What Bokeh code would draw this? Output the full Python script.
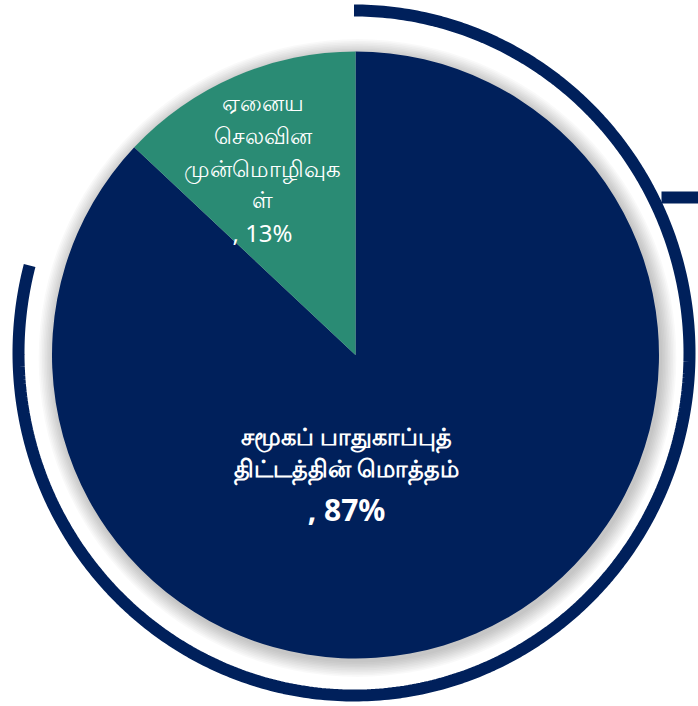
import numpy as np
from bokeh.plotting import figure
from bokeh.models import Range1d
from bokeh.core.properties import value
from bokeh.embed import file_html
from bokeh.resources import INLINE

# ---- data ----
categories = ["சமூகப் பாதுகாப்புத் திட்டத்தின் மொத்தம்", "ஏனைய செலவின முன்மொழிவுகள்"]
shares = [87, 13]
colors = ["#00205B", "#2A8B74"]
label_lines = [
    ["சமூகப் பாதுகாப்புத்", "திட்டத்தின் மொத்தம்"],
    ["ஏனைய", "செலவின", "முன்மொழிவுக", "ள்"],
]
pct_labels = [", 87%", ", 13%"]

W, H = 698, 706
p = figure(width=W, height=H, x_range=Range1d(0, 698), y_range=Range1d(0, 706),
           output_backend="svg", toolbar_location=None, min_border=0)
p.axis.visible = False
p.grid.visible = False
p.outline_line_color = None
p.background_fill_color = "white"
p.border_fill_color = "white"

cx, cy, r = 355.0, 706 - 354.5, 303.5

# decorative outer arc (slightly elliptical), and connector line
ax, ay, rx, ry = 353.5, 706 - 352.5, 335.5, 342.5
t = np.linspace(np.pi / 2, np.radians(-194.8), 400)
p.line(ax + rx * np.cos(t), ay + ry * np.sin(t), line_color="#00205B", line_width=12, line_cap="butt")
p.line([661, 700], [706 - 197, 706 - 197], line_color="#00205B", line_width=12)

# soft shadow
for k in range(10):
    p.circle(x=cx + 2, y=cy - 3, radius=r + 1 + k * 1.6, fill_color="black",
             fill_alpha=0.022, line_color=None)

# pie wedges
fr = np.array(shares, dtype=float) / sum(shares)
start_green = np.pi / 2
end_green = start_green + fr[1] * 2 * np.pi
starts = [end_green, start_green]
ends = [start_green + 2 * np.pi, end_green]
p.wedge(x=[cx, cx], y=[cy, cy], radius=r, start_angle=starts, end_angle=ends,
        fill_color=colors, line_color=None)

font = value("Noto Sans")
# navy label
nav_x = 346
nav_y = [435, 467]
p.text(x=[nav_x] * 2, y=[706 - v for v in nav_y], text=label_lines[0], text_color="white",
       text_font=font, text_font_size="24px", text_font_style="bold",
       text_align="center", text_baseline="middle")
p.text(x=[nav_x], y=[706 - 509], text=[pct_labels[0]], text_color="white",
       text_font=font, text_font_size="30px", text_font_style="bold",
       text_align="center", text_baseline="middle")
# green label
g_x = 262
g_y = [101, 134, 167, 198]
p.text(x=[g_x] * 4, y=[706 - v for v in g_y], text=label_lines[1], text_color="white",
       text_font=font, text_font_size="23px",
       text_align="center", text_baseline="middle")
p.text(x=[g_x], y=[706 - 232], text=[pct_labels[1]], text_color="white",
       text_font=font, text_font_size="24px",
       text_align="center", text_baseline="middle")

open("out.html", "w").write(file_html(p, INLINE))
